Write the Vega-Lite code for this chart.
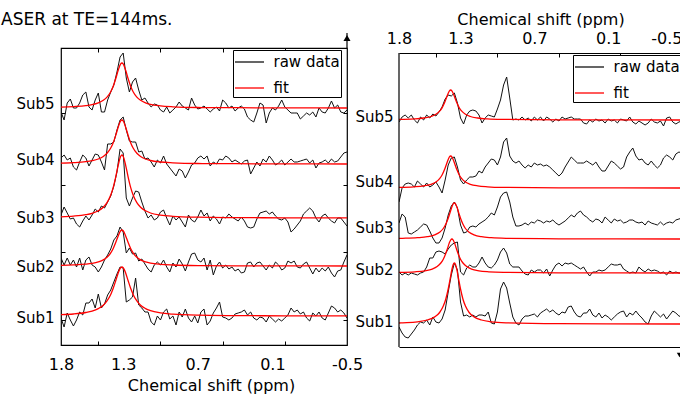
{
"$schema": "https://vega.github.io/schema/vega-lite/v6.json",
"background": "white",
"padding": {"left": 0, "top": 10, "right": 0, "bottom": 0},
"config": {
  "font": "DejaVu Sans",
  "view": {"stroke": "black", "strokeWidth": 1.2},
  "axis": {"domain": false, "grid": false, "minExtent": 0, "labelFont": "DejaVu Sans", "titleFont": "DejaVu Sans", "labelFontSize": 16, "titleFontSize": 16, "titleFontWeight": "normal", "labelColor": "black", "titleColor": "black", "tickColor": "black", "tickWidth": 1, "domainColor": "black", "domainWidth": 1.2},
  "legend": {"labelFont": "DejaVu Sans", "labelFontSize": 15, "labelColor": "black"}
},
"resolve": {"scale": {"color": "independent"}},
"bounds": "flush",
"spacing": 52,
"datasets": {
"L": [
{"x":1.8,"S1":27,"S2":87,"S3":130,"S4":187,"S5":233},
{"x":1.775,"S1":18,"S2":80,"S3":138,"S4":190,"S5":225},
{"x":1.75,"S1":32,"S2":87,"S3":132,"S4":185,"S5":242},
{"x":1.725,"S1":25,"S2":80,"S3":126,"S4":187,"S5":246},
{"x":1.7,"S1":19,"S2":85,"S3":127,"S4":178,"S5":237},
{"x":1.675,"S1":25,"S2":78,"S3":121,"S4":175,"S5":237},
{"x":1.65,"S1":33,"S2":87,"S3":118,"S4":183,"S5":242},
{"x":1.625,"S1":30,"S2":75,"S3":124,"S4":190,"S5":250},
{"x":1.6,"S1":42,"S2":85,"S3":129,"S4":187,"S5":253},
{"x":1.575,"S1":42,"S2":88,"S3":125,"S4":179,"S5":238},
{"x":1.55,"S1":46,"S2":80,"S3":130,"S4":185,"S5":235},
{"x":1.525,"S1":37,"S2":78,"S3":136,"S4":191,"S5":245},
{"x":1.5,"S1":51,"S2":73,"S3":133,"S4":190,"S5":252},
{"x":1.475,"S1":37,"S2":78,"S3":139,"S4":183,"S5":233},
{"x":1.45,"S1":41,"S2":85,"S3":137,"S4":175,"S5":233},
{"x":1.425,"S1":50,"S2":90,"S3":143,"S4":201,"S5":245},
{"x":1.4,"S1":55,"S2":96,"S3":149,"S4":201,"S5":253},
{"x":1.375,"S1":63,"S2":105,"S3":159,"S4":203,"S5":260},
{"x":1.35,"S1":71,"S2":109,"S3":173,"S4":215,"S5":273},
{"x":1.325,"S1":78,"S2":118,"S3":196,"S4":225,"S5":288},
{"x":1.3,"S1":77,"S2":113,"S3":192,"S4":228,"S5":292},
{"x":1.275,"S1":43,"S2":92,"S3":147,"S4":215,"S5":267},
{"x":1.25,"S1":45,"S2":97,"S3":139,"S4":204,"S5":253},
{"x":1.225,"S1":48,"S2":91,"S3":147,"S4":203,"S5":263},
{"x":1.2,"S1":67,"S2":92,"S3":154,"S4":203,"S5":267},
{"x":1.175,"S1":40,"S2":84,"S3":153,"S4":193,"S5":255},
{"x":1.15,"S1":37,"S2":86,"S3":143,"S4":194,"S5":245},
{"x":1.125,"S1":33,"S2":81,"S3":134,"S4":186,"S5":247},
{"x":1.1,"S1":33,"S2":76,"S3":127,"S4":187,"S5":242},
{"x":1.075,"S1":23,"S2":73,"S3":130,"S4":183,"S5":238},
{"x":1.05,"S1":20,"S2":80,"S3":125,"S4":178,"S5":241},
{"x":1.025,"S1":29,"S2":83,"S3":127,"S4":185,"S5":240},
{"x":1.0,"S1":25,"S2":80,"S3":133,"S4":182,"S5":235},
{"x":0.975,"S1":33,"S2":85,"S3":135,"S4":189,"S5":233},
{"x":0.95,"S1":36,"S2":78,"S3":127,"S4":181,"S5":238},
{"x":0.925,"S1":26,"S2":73,"S3":120,"S4":177,"S5":232},
{"x":0.9,"S1":29,"S2":82,"S3":129,"S4":173,"S5":235},
{"x":0.875,"S1":20,"S2":78,"S3":125,"S4":169,"S5":238},
{"x":0.85,"S1":33,"S2":86,"S3":128,"S4":176,"S5":243},
{"x":0.825,"S1":28,"S2":81,"S3":123,"S4":174,"S5":239},
{"x":0.8,"S1":36,"S2":74,"S3":118,"S4":167,"S5":237},
{"x":0.775,"S1":27,"S2":83,"S3":130,"S4":173,"S5":235},
{"x":0.75,"S1":23,"S2":91,"S3":125,"S4":180,"S5":247},
{"x":0.725,"S1":29,"S2":92,"S3":123,"S4":182,"S5":240},
{"x":0.7,"S1":22,"S2":85,"S3":128,"S4":187,"S5":236},
{"x":0.675,"S1":33,"S2":83,"S3":135,"S4":189,"S5":237},
{"x":0.65,"S1":36,"S2":87,"S3":129,"S4":186,"S5":239},
{"x":0.625,"S1":20,"S2":75,"S3":132,"S4":189,"S5":236},
{"x":0.6,"S1":24,"S2":85,"S3":124,"S4":179,"S5":233},
{"x":0.575,"S1":32,"S2":70,"S3":129,"S4":183,"S5":236},
{"x":0.55,"S1":37,"S2":79,"S3":126,"S4":181,"S5":238},
{"x":0.525,"S1":43,"S2":83,"S3":121,"S4":186,"S5":234},
{"x":0.5,"S1":28,"S2":77,"S3":128,"S4":185,"S5":245},
{"x":0.475,"S1":27,"S2":80,"S3":127,"S4":189,"S5":242},
{"x":0.45,"S1":25,"S2":76,"S3":131,"S4":187,"S5":237},
{"x":0.425,"S1":27,"S2":78,"S3":128,"S4":183,"S5":239},
{"x":0.4,"S1":31,"S2":74,"S3":126,"S4":185,"S5":234},
{"x":0.375,"S1":32,"S2":76,"S3":124,"S4":183,"S5":237},
{"x":0.35,"S1":33,"S2":72,"S3":128,"S4":181,"S5":239},
{"x":0.325,"S1":35,"S2":73,"S3":124,"S4":184,"S5":236},
{"x":0.3,"S1":30,"S2":82,"S3":118,"S4":185,"S5":228},
{"x":0.275,"S1":33,"S2":83,"S3":117,"S4":171,"S5":225},
{"x":0.25,"S1":27,"S2":78,"S3":118,"S4":177,"S5":223},
{"x":0.225,"S1":25,"S2":82,"S3":126,"S4":183,"S5":232},
{"x":0.2,"S1":28,"S2":83,"S3":132,"S4":179,"S5":242},
{"x":0.175,"S1":27,"S2":79,"S3":133,"S4":186,"S5":240},
{"x":0.15,"S1":23,"S2":75,"S3":134,"S4":183,"S5":222},
{"x":0.125,"S1":29,"S2":80,"S3":131,"S4":189,"S5":232},
{"x":0.1,"S1":26,"S2":77,"S3":133,"S4":185,"S5":237},
{"x":0.075,"S1":23,"S2":83,"S3":129,"S4":180,"S5":235},
{"x":0.05,"S1":26,"S2":80,"S3":126,"S4":182,"S5":239},
{"x":0.025,"S1":24,"S2":75,"S3":125,"S4":185,"S5":245},
{"x":0,"S1":27,"S2":77,"S3":127,"S4":180,"S5":238},
{"x":-0.025,"S1":30,"S2":84,"S3":123,"S4":183,"S5":235},
{"x":-0.05,"S1":37,"S2":82,"S3":113,"S4":186,"S5":232},
{"x":-0.075,"S1":33,"S2":84,"S3":116,"S4":183,"S5":232},
{"x":-0.1,"S1":35,"S2":78,"S3":120,"S4":183,"S5":232},
{"x":-0.125,"S1":31,"S2":77,"S3":124,"S4":184,"S5":226},
{"x":-0.15,"S1":33,"S2":81,"S3":131,"S4":185,"S5":229},
{"x":-0.175,"S1":27,"S2":83,"S3":134,"S4":186,"S5":232},
{"x":-0.2,"S1":24,"S2":77,"S3":137,"S4":182,"S5":230},
{"x":-0.225,"S1":32,"S2":71,"S3":134,"S4":185,"S5":233},
{"x":-0.25,"S1":29,"S2":77,"S3":127,"S4":177,"S5":228},
{"x":-0.275,"S1":33,"S2":73,"S3":123,"S4":182,"S5":237},
{"x":-0.3,"S1":27,"S2":77,"S3":129,"S4":183,"S5":233},
{"x":-0.325,"S1":25,"S2":74,"S3":131,"S4":185,"S5":232},
{"x":-0.35,"S1":32,"S2":78,"S3":127,"S4":182,"S5":237},
{"x":-0.375,"S1":39,"S2":72,"S3":124,"S4":186,"S5":244},
{"x":-0.4,"S1":37,"S2":68,"S3":122,"S4":183,"S5":237},
{"x":-0.425,"S1":33,"S2":74,"S3":127,"S4":184,"S5":240},
{"x":-0.45,"S1":35,"S2":75,"S3":127,"S4":188,"S5":233},
{"x":-0.475,"S1":32,"S2":83,"S3":123,"S4":192,"S5":232},
{"x":-0.5,"S1":27,"S2":90,"S3":119,"S4":193,"S5":235}
],
"R": [
{"x":1.8,"S1":20,"S2":75,"S3":124,"S4":145,"S5":225},
{"x":1.775,"S1":14,"S2":72,"S3":133,"S4":159,"S5":230},
{"x":1.75,"S1":10,"S2":74,"S3":130,"S4":163,"S5":232},
{"x":1.725,"S1":9,"S2":72,"S3":114,"S4":164,"S5":229},
{"x":1.7,"S1":13,"S2":74,"S3":113,"S4":163,"S5":232},
{"x":1.675,"S1":17,"S2":73,"S3":115,"S4":160,"S5":227},
{"x":1.65,"S1":22,"S2":72,"S3":117,"S4":166,"S5":224},
{"x":1.625,"S1":25,"S2":74,"S3":120,"S4":163,"S5":230},
{"x":1.6,"S1":24,"S2":75,"S3":123,"S4":160,"S5":227},
{"x":1.575,"S1":27,"S2":80,"S3":122,"S4":164,"S5":232},
{"x":1.55,"S1":22,"S2":89,"S3":116,"S4":160,"S5":229},
{"x":1.525,"S1":30,"S2":89,"S3":109,"S4":162,"S5":233},
{"x":1.5,"S1":25,"S2":95,"S3":104,"S4":165,"S5":231},
{"x":1.475,"S1":24,"S2":96,"S3":104,"S4":160,"S5":235},
{"x":1.45,"S1":28,"S2":95,"S3":109,"S4":154,"S5":240},
{"x":1.425,"S1":37,"S2":93,"S3":119,"S4":167,"S5":248},
{"x":1.4,"S1":55,"S2":98,"S3":132,"S4":182,"S5":252},
{"x":1.375,"S1":72,"S2":102,"S3":141,"S4":189,"S5":251},
{"x":1.35,"S1":84,"S2":104,"S3":145,"S4":190,"S5":254},
{"x":1.325,"S1":77,"S2":105,"S3":139,"S4":180,"S5":244},
{"x":1.3,"S1":45,"S2":75,"S3":122,"S4":167,"S5":229},
{"x":1.275,"S1":31,"S2":72,"S3":114,"S4":163,"S5":223},
{"x":1.25,"S1":32,"S2":79,"S3":115,"S4":167,"S5":232},
{"x":1.225,"S1":30,"S2":82,"S3":120,"S4":170,"S5":236},
{"x":1.2,"S1":32,"S2":80,"S3":121,"S4":170,"S5":237},
{"x":1.175,"S1":30,"S2":80,"S3":120,"S4":171,"S5":236},
{"x":1.15,"S1":32,"S2":84,"S3":123,"S4":176,"S5":232},
{"x":1.125,"S1":32,"S2":90,"S3":125,"S4":174,"S5":224},
{"x":1.1,"S1":31,"S2":84,"S3":127,"S4":180,"S5":229},
{"x":1.075,"S1":35,"S2":80,"S3":130,"S4":184,"S5":232},
{"x":1.05,"S1":24,"S2":79,"S3":134,"S4":188,"S5":231},
{"x":1.025,"S1":23,"S2":82,"S3":132,"S4":187,"S5":230},
{"x":1.0,"S1":35,"S2":87,"S3":140,"S4":182,"S5":238},
{"x":0.975,"S1":58,"S2":95,"S3":150,"S4":190,"S5":247},
{"x":0.95,"S1":65,"S2":99,"S3":154,"S4":205,"S5":262},
{"x":0.925,"S1":59,"S2":94,"S3":155,"S4":209,"S5":270},
{"x":0.9,"S1":44,"S2":83,"S3":145,"S4":191,"S5":249},
{"x":0.875,"S1":30,"S2":80,"S3":130,"S4":186,"S5":227},
{"x":0.85,"S1":24,"S2":80,"S3":121,"S4":184,"S5":228},
{"x":0.825,"S1":22,"S2":80,"S3":121,"S4":186,"S5":227},
{"x":0.8,"S1":28,"S2":76,"S3":122,"S4":182,"S5":230},
{"x":0.775,"S1":31,"S2":73,"S3":124,"S4":179,"S5":227},
{"x":0.75,"S1":31,"S2":72,"S3":122,"S4":182,"S5":229},
{"x":0.725,"S1":32,"S2":77,"S3":125,"S4":180,"S5":226},
{"x":0.7,"S1":33,"S2":75,"S3":124,"S4":184,"S5":230},
{"x":0.675,"S1":30,"S2":77,"S3":127,"S4":182,"S5":227},
{"x":0.65,"S1":34,"S2":77,"S3":126,"S4":183,"S5":230},
{"x":0.625,"S1":36,"S2":74,"S3":124,"S4":181,"S5":226},
{"x":0.6,"S1":38,"S2":78,"S3":126,"S4":182,"S5":230},
{"x":0.575,"S1":35,"S2":71,"S3":125,"S4":180,"S5":228},
{"x":0.55,"S1":37,"S2":77,"S3":127,"S4":177,"S5":225},
{"x":0.525,"S1":34,"S2":82,"S3":124,"S4":174,"S5":228},
{"x":0.5,"S1":32,"S2":84,"S3":122,"S4":171,"S5":226},
{"x":0.475,"S1":35,"S2":81,"S3":124,"S4":174,"S5":230},
{"x":0.45,"S1":34,"S2":84,"S3":126,"S4":180,"S5":228},
{"x":0.425,"S1":40,"S2":83,"S3":129,"S4":185,"S5":229},
{"x":0.4,"S1":41,"S2":84,"S3":132,"S4":190,"S5":230},
{"x":0.375,"S1":35,"S2":82,"S3":130,"S4":187,"S5":228},
{"x":0.35,"S1":31,"S2":80,"S3":134,"S4":184,"S5":228},
{"x":0.325,"S1":30,"S2":78,"S3":136,"S4":184,"S5":228},
{"x":0.3,"S1":34,"S2":80,"S3":132,"S4":184,"S5":224},
{"x":0.275,"S1":34,"S2":75,"S3":130,"S4":186,"S5":223},
{"x":0.25,"S1":38,"S2":71,"S3":127,"S4":184,"S5":227},
{"x":0.225,"S1":32,"S2":75,"S3":125,"S4":182,"S5":225},
{"x":0.2,"S1":30,"S2":75,"S3":128,"S4":185,"S5":228},
{"x":0.175,"S1":34,"S2":77,"S3":127,"S4":180,"S5":226},
{"x":0.15,"S1":29,"S2":76,"S3":124,"S4":176,"S5":227},
{"x":0.125,"S1":32,"S2":77,"S3":130,"S4":176,"S5":224},
{"x":0.1,"S1":30,"S2":80,"S3":127,"S4":181,"S5":228},
{"x":0.075,"S1":27,"S2":83,"S3":124,"S4":186,"S5":226},
{"x":0.05,"S1":30,"S2":82,"S3":128,"S4":184,"S5":227},
{"x":0.025,"S1":33,"S2":82,"S3":126,"S4":181,"S5":224},
{"x":0,"S1":35,"S2":83,"S3":127,"S4":178,"S5":228},
{"x":-0.025,"S1":36,"S2":78,"S3":124,"S4":180,"S5":227},
{"x":-0.05,"S1":30,"S2":76,"S3":125,"S4":190,"S5":226},
{"x":-0.075,"S1":34,"S2":74,"S3":127,"S4":195,"S5":230},
{"x":-0.1,"S1":32,"S2":75,"S3":127,"S4":199,"S5":225},
{"x":-0.125,"S1":36,"S2":74,"S3":125,"S4":191,"S5":223},
{"x":-0.15,"S1":32,"S2":80,"S3":124,"S4":187,"S5":226},
{"x":-0.175,"S1":29,"S2":77,"S3":125,"S4":188,"S5":224},
{"x":-0.2,"S1":25,"S2":75,"S3":122,"S4":184,"S5":222},
{"x":-0.225,"S1":23,"S2":78,"S3":126,"S4":182,"S5":224},
{"x":-0.25,"S1":31,"S2":76,"S3":124,"S4":186,"S5":228},
{"x":-0.275,"S1":36,"S2":77,"S3":123,"S4":182,"S5":225},
{"x":-0.3,"S1":33,"S2":76,"S3":122,"S4":179,"S5":224},
{"x":-0.325,"S1":30,"S2":74,"S3":125,"S4":182,"S5":226},
{"x":-0.35,"S1":33,"S2":75,"S3":122,"S4":189,"S5":221},
{"x":-0.375,"S1":28,"S2":72,"S3":124,"S4":192,"S5":229},
{"x":-0.4,"S1":32,"S2":76,"S3":125,"S4":190,"S5":230},
{"x":-0.425,"S1":36,"S2":74,"S3":124,"S4":187,"S5":225},
{"x":-0.45,"S1":34,"S2":75,"S3":127,"S4":193,"S5":223},
{"x":-0.475,"S1":31,"S2":74,"S3":128,"S4":195,"S5":225},
{"x":-0.5,"S1":30,"S2":74,"S3":129,"S4":194,"S5":226}
],
"LF": [
{"x":1.8,"S1":30.3,"S2":79.7,"S3":128.2,"S4":181.8,"S5":237.9},
{"x":1.7,"S1":31,"S2":80.1,"S3":128.9,"S4":182.3,"S5":238.4},
{"x":1.6,"S1":32.5,"S2":80.9,"S3":130.3,"S4":183.3,"S5":239.3},
{"x":1.55,"S1":33.9,"S2":81.7,"S3":131.7,"S4":184.3,"S5":240.3},
{"x":1.5,"S1":36.4,"S2":83.1,"S3":134.2,"S4":186,"S5":242.1},
{"x":1.46,"S1":39.8,"S2":85.1,"S3":137.7,"S4":188.5,"S5":244.7},
{"x":1.43,"S1":44.1,"S2":87.7,"S3":142.3,"S4":191.7,"S5":247.9},
{"x":1.4,"S1":50.6,"S2":92.1,"S3":149.9,"S4":197,"S5":253.3},
{"x":1.38,"S1":56.7,"S2":96.5,"S3":157.6,"S4":202.3,"S5":258.8},
{"x":1.36,"S1":64.2,"S2":102.4,"S3":167.9,"S4":209.6,"S5":266.2},
{"x":1.34,"S1":72,"S2":109.1,"S3":179.7,"S4":217.8,"S5":274.7},
{"x":1.32,"S1":77.3,"S2":114.2,"S3":188.7,"S4":224.1,"S5":281.1},
{"x":1.31,"S1":78,"S2":115,"S3":190,"S4":225,"S5":282},
{"x":1.3,"S1":77.3,"S2":114.2,"S3":188.7,"S4":224.1,"S5":281.1},
{"x":1.28,"S1":72,"S2":109.1,"S3":179.7,"S4":217.8,"S5":274.7},
{"x":1.26,"S1":64.2,"S2":102.4,"S3":167.9,"S4":209.6,"S5":266.2},
{"x":1.24,"S1":56.7,"S2":96.5,"S3":157.6,"S4":202.3,"S5":258.8},
{"x":1.22,"S1":50.6,"S2":92.1,"S3":149.9,"S4":197,"S5":253.3},
{"x":1.19,"S1":44.1,"S2":87.7,"S3":142.3,"S4":191.7,"S5":247.9},
{"x":1.16,"S1":39.8,"S2":85.1,"S3":137.7,"S4":188.5,"S5":244.7},
{"x":1.12,"S1":36.4,"S2":83.1,"S3":134.2,"S4":186,"S5":242.1},
{"x":1.08,"S1":34.3,"S2":81.9,"S3":132,"S4":184.5,"S5":240.6},
{"x":1.0,"S1":32.1,"S2":80.7,"S3":129.9,"S4":183,"S5":239.1},
{"x":0.9,"S1":30.8,"S2":80,"S3":128.7,"S4":182.2,"S5":238.2},
{"x":0.7,"S1":29.8,"S2":79.4,"S3":127.8,"S4":181.5,"S5":237.5},
{"x":0.4,"S1":29.4,"S2":79.2,"S3":127.4,"S4":181.3,"S5":237.3},
{"x":0,"S1":29.2,"S2":79.1,"S3":127.2,"S4":181.1,"S5":237.1},
{"x":-0.5,"S1":29.1,"S2":79,"S3":127.1,"S4":181,"S5":237}
],
"RF": [
{"s":"S5","x":1.8,"y":227.6},{"s":"S5","x":1.68,"y":228.1},{"s":"S5","x":1.6,"y":229},{"s":"S5","x":1.54,"y":230.5},{"s":"S5","x":1.5,"y":232.7},{"s":"S5","x":1.47,"y":235.8},{"s":"S5","x":1.45,"y":239.2},{"s":"S5","x":1.43,"y":244.2},{"s":"S5","x":1.415,"y":249},{"s":"S5","x":1.4,"y":253.8},{"s":"S5","x":1.39,"y":256.1},{"s":"S5","x":1.38,"y":257},{"s":"S5","x":1.37,"y":256.1},{"s":"S5","x":1.36,"y":253.8},{"s":"S5","x":1.345,"y":249},{"s":"S5","x":1.33,"y":244.2},{"s":"S5","x":1.31,"y":239.2},{"s":"S5","x":1.29,"y":235.8},{"s":"S5","x":1.26,"y":232.7},{"s":"S5","x":1.22,"y":230.5},{"s":"S5","x":1.16,"y":229},{"s":"S5","x":1.08,"y":228.1},{"s":"S5","x":0.96,"y":227.6},{"s":"S5","x":0.5,"y":227.1},{"s":"S5","x":-0.5,"y":227},
{"s":"S4","x":1.8,"y":159.6},{"s":"S4","x":1.68,"y":160.2},{"s":"S4","x":1.6,"y":161.1},{"s":"S4","x":1.54,"y":162.7},{"s":"S4","x":1.5,"y":165},{"s":"S4","x":1.47,"y":168.4},{"s":"S4","x":1.45,"y":172},{"s":"S4","x":1.43,"y":177.4},{"s":"S4","x":1.415,"y":182.5},{"s":"S4","x":1.4,"y":187.6},{"s":"S4","x":1.39,"y":190.1},{"s":"S4","x":1.38,"y":191},{"s":"S4","x":1.37,"y":190.1},{"s":"S4","x":1.36,"y":187.6},{"s":"S4","x":1.345,"y":182.5},{"s":"S4","x":1.33,"y":177.4},{"s":"S4","x":1.31,"y":172},{"s":"S4","x":1.29,"y":168.4},{"s":"S4","x":1.26,"y":165},{"s":"S4","x":1.22,"y":162.7},{"s":"S4","x":1.16,"y":161.1},{"s":"S4","x":1.08,"y":160.2},{"s":"S4","x":0.96,"y":159.6},{"s":"S4","x":0.5,"y":159.1},{"s":"S4","x":-0.5,"y":159},
{"s":"S3","x":1.8,"y":108.6},{"s":"S3","x":1.77,"y":108.7},{"s":"S3","x":1.65,"y":109.3},{"s":"S3","x":1.57,"y":110.3},{"s":"S3","x":1.51,"y":112.2},{"s":"S3","x":1.47,"y":114.8},{"s":"S3","x":1.44,"y":118.5},{"s":"S3","x":1.42,"y":122.7},{"s":"S3","x":1.4,"y":128.7},{"s":"S3","x":1.385,"y":134.4},{"s":"S3","x":1.37,"y":140.2},{"s":"S3","x":1.36,"y":143},{"s":"S3","x":1.35,"y":144},{"s":"S3","x":1.34,"y":143},{"s":"S3","x":1.33,"y":140.2},{"s":"S3","x":1.315,"y":134.4},{"s":"S3","x":1.3,"y":128.7},{"s":"S3","x":1.28,"y":122.7},{"s":"S3","x":1.26,"y":118.5},{"s":"S3","x":1.23,"y":114.8},{"s":"S3","x":1.19,"y":112.2},{"s":"S3","x":1.13,"y":110.3},{"s":"S3","x":1.05,"y":109.3},{"s":"S3","x":0.93,"y":108.7},{"s":"S3","x":0.5,"y":108.2},{"s":"S3","x":-0.5,"y":108},
{"s":"S2","x":1.8,"y":74.6},{"s":"S2","x":1.67,"y":75.2},{"s":"S2","x":1.59,"y":76.2},{"s":"S2","x":1.53,"y":77.9},{"s":"S2","x":1.49,"y":80.4},{"s":"S2","x":1.46,"y":84},{"s":"S2","x":1.44,"y":87.8},{"s":"S2","x":1.42,"y":93.5},{"s":"S2","x":1.405,"y":98.9},{"s":"S2","x":1.39,"y":104.4},{"s":"S2","x":1.38,"y":107},{"s":"S2","x":1.37,"y":108},{"s":"S2","x":1.36,"y":107},{"s":"S2","x":1.35,"y":104.4},{"s":"S2","x":1.335,"y":98.9},{"s":"S2","x":1.32,"y":93.5},{"s":"S2","x":1.3,"y":87.8},{"s":"S2","x":1.28,"y":84},{"s":"S2","x":1.25,"y":80.4},{"s":"S2","x":1.21,"y":77.9},{"s":"S2","x":1.15,"y":76.2},{"s":"S2","x":1.07,"y":75.2},{"s":"S2","x":0.95,"y":74.6},{"s":"S2","x":0.5,"y":74.1},{"s":"S2","x":-0.5,"y":74},
{"s":"S1","x":1.8,"y":24},{"s":"S1","x":1.77,"y":24.2},{"s":"S1","x":1.65,"y":25.2},{"s":"S1","x":1.57,"y":27},{"s":"S1","x":1.51,"y":30.1},{"s":"S1","x":1.47,"y":34.5},{"s":"S1","x":1.44,"y":40.9},{"s":"S1","x":1.42,"y":47.8},{"s":"S1","x":1.4,"y":58},{"s":"S1","x":1.385,"y":67.7},{"s":"S1","x":1.37,"y":77.5},{"s":"S1","x":1.36,"y":82.2},{"s":"S1","x":1.35,"y":84},{"s":"S1","x":1.34,"y":82.2},{"s":"S1","x":1.33,"y":77.5},{"s":"S1","x":1.315,"y":67.7},{"s":"S1","x":1.3,"y":58},{"s":"S1","x":1.28,"y":47.8},{"s":"S1","x":1.26,"y":40.9},{"s":"S1","x":1.23,"y":34.5},{"s":"S1","x":1.19,"y":30.1},{"s":"S1","x":1.13,"y":27},{"s":"S1","x":1.05,"y":25.2},{"s":"S1","x":0.93,"y":24.2},{"s":"S1","x":0.5,"y":23.3},{"s":"S1","x":-0.5,"y":23}
]
},
"hconcat": [
{
  "width": 286, "height": 297,
  "title": {"text": "ASER at TE=144ms.", "anchor": "start", "frame": "group", "fontSize": 17, "fontWeight": "normal", "color": "black", "font": "DejaVu Sans", "baseline": "bottom", "offset": -14, "dx": -60},
  "layer": [
    {"data": {"name": "L"}, "transform": [{"fold": ["S1","S2","S3","S4","S5"], "as": ["s","v"]}],
     "mark": {"type": "line", "strokeWidth": 1, "clip": true},
     "encoding": {
       "x": {"field": "x", "type": "quantitative", "scale": {"domain": [-0.5, 1.8], "reverse": true, "nice": false, "zero": false},
             "axis": {"orient": "bottom", "values": [1.8,1.3,0.7,0.1,-0.5], "ticks": false, "labelPadding": 11, "labelFlush": false, "labelOverlap": false, "labelExpr": "datum.value < 0 ? '-' + format(-datum.value, '.1f') : format(datum.value, '.1f')", "title": "Chemical shift (ppm)", "titlePadding": 5, "titleX": 150}},
       "y": {"field": "v", "type": "quantitative", "scale": {"domain": [0, 297], "nice": false, "zero": false},
             "axis": {"orient": "left", "values": [27.5,78.3,128,185.5,241.5], "ticks": false, "labelPadding": 7, "labelFontSize": 15, "labelOverlap": false, "labelExpr": "datum.value < 50 ? 'Sub1' : datum.value < 100 ? 'Sub2' : datum.value < 150 ? 'Sub3' : datum.value < 210 ? 'Sub4' : 'Sub5'", "title": null}},
       "detail": {"field": "s"},
       "color": {"datum": "raw data", "type": "nominal", "scale": {"domain": ["raw data","fit"], "range": ["#111111","#ff0000"]},
                 "legend": {"orient": "none", "legendX": 172, "legendY": 2, "title": null, "strokeColor": "black", "fillColor": "white", "padding": 1, "symbolType": "M-1.45,0H1.45", "symbolSize": 400, "symbolOffset": 4.5, "symbolStrokeWidth": 1.3, "labelOffset": 13, "rowPadding": 7}}
     }},
    {"data": {"name": "LF"}, "transform": [{"fold": ["S1","S2","S3","S4","S5"], "as": ["s","v"]}],
     "mark": {"type": "line", "strokeWidth": 1.3, "interpolate": "monotone", "clip": true},
     "encoding": {
       "x": {"field": "x", "type": "quantitative", "axis": {"orient": "top", "values": [1.5,1,0.5,0], "labels": false, "tickSize": -4, "title": null}},
       "y": {"field": "v", "type": "quantitative", "axis": {"orient": "right", "values": [25,93,160,232], "labels": false, "tickSize": -4, "title": null}},
       "detail": {"field": "s"},
       "color": {"datum": "fit", "type": "nominal"}
     }},
    {"data": {"values": [{}]},
     "mark": {"type": "rule", "clip": false, "strokeWidth": 1.2, "color": "black"},
     "encoding": {
       "x": {"datum": -0.5, "type": "quantitative", "axis": {"orient": "bottom", "values": [1.5,1,0.5,0], "labels": false, "tickSize": -4, "title": null}},
       "y": {"datum": 297, "type": "quantitative", "axis": {"orient": "left", "values": [25,93,160,232], "labels": false, "tickSize": -4, "title": null}},
       "y2": {"datum": 312}
     }},
    {"data": {"values": [{}]},
     "mark": {"type": "point", "shape": "triangle-up", "filled": true, "size": 50, "color": "black", "opacity": 1, "clip": false},
     "encoding": {
       "x": {"datum": -0.5, "type": "quantitative", "axis": null},
       "y": {"datum": 307, "type": "quantitative", "axis": null}
     }}
  ],
  "resolve": {"axis": {"x": "independent", "y": "independent"}}
},
{
  "width": 283, "height": 299,
  "view": {"stroke": null},
  "layer": [
    {"data": {"name": "R"}, "transform": [{"fold": ["S1","S2","S3","S4","S5"], "as": ["s","v"]}],
     "mark": {"type": "line", "strokeWidth": 1, "clip": true},
     "encoding": {
       "x": {"field": "x", "type": "quantitative", "scale": {"domain": [-0.5, 1.8], "reverse": true, "nice": false, "zero": false},
             "axis": {"orient": "top", "offset": -5, "domain": true, "values": [1.8,1.3,0.7,0.1,-0.5], "ticks": false, "labelPadding": 7, "labelFlush": false, "labelOverlap": false, "labelAlign": {"condition": {"test": "datum.value < 0", "value": "right"}, "value": "center"}, "labelExpr": "datum.value < 0 ? '-' + format(-datum.value, '.1f') : format(datum.value, '.1f')", "title": "Chemical shift (ppm)", "titlePadding": 3}},
       "y": {"field": "v", "type": "quantitative", "scale": {"domain": [0, 299], "nice": false, "zero": false},
             "axis": {"orient": "left", "values": [26,78,120,166,231], "ticks": false, "labelPadding": 6, "labelFontSize": 15, "labelOverlap": false, "labelExpr": "datum.value < 50 ? 'Sub1' : datum.value < 100 ? 'Sub2' : datum.value < 143 ? 'Sub3' : datum.value < 200 ? 'Sub4' : 'Sub5'", "title": null}},
       "detail": {"field": "s"},
       "color": {"datum": "raw data", "type": "nominal", "scale": {"domain": ["raw data","fit"], "range": ["#111111","#ff0000"]},
                 "legend": {"orient": "none", "legendX": 174, "legendY": 7, "title": null, "strokeColor": "black", "fillColor": "white", "padding": 1, "symbolType": "M-1.45,0H1.45", "symbolSize": 400, "symbolOffset": 4.5, "symbolStrokeWidth": 1.3, "labelOffset": 13, "rowPadding": 7}}
     }},
    {"data": {"name": "RF"},
     "mark": {"type": "line", "strokeWidth": 1.3, "interpolate": "monotone", "clip": true},
     "encoding": {
       "x": {"field": "x", "type": "quantitative", "axis": {"orient": "top", "offset": -5, "values": [1.5,1,0.5,0], "labels": false, "tickSize": -4, "title": null}},
       "y": {"field": "y", "type": "quantitative", "axis": null},
       "detail": {"field": "s"},
       "color": {"datum": "fit", "type": "nominal"}
     }},
    {"data": {"values": [{}]},
     "mark": {"type": "rule", "clip": false, "strokeWidth": 1.2, "color": "black"},
     "encoding": {
       "x": {"datum": 1.8, "type": "quantitative", "axis": {"orient": "bottom", "domain": true, "ticks": false, "labels": false, "title": null}},
       "y": {"datum": 0, "type": "quantitative", "axis": null},
       "y2": {"datum": 294}
     }},
    {"data": {"values": [{}]},
     "mark": {"type": "point", "shape": "triangle-down", "filled": true, "size": 30, "color": "black", "opacity": 1, "clip": false},
     "encoding": {
       "x": {"datum": -0.48, "type": "quantitative", "axis": null},
       "y": {"datum": -8, "type": "quantitative", "axis": null}
     }}
  ],
  "resolve": {"axis": {"x": "independent", "y": "independent"}}
}
]
}
